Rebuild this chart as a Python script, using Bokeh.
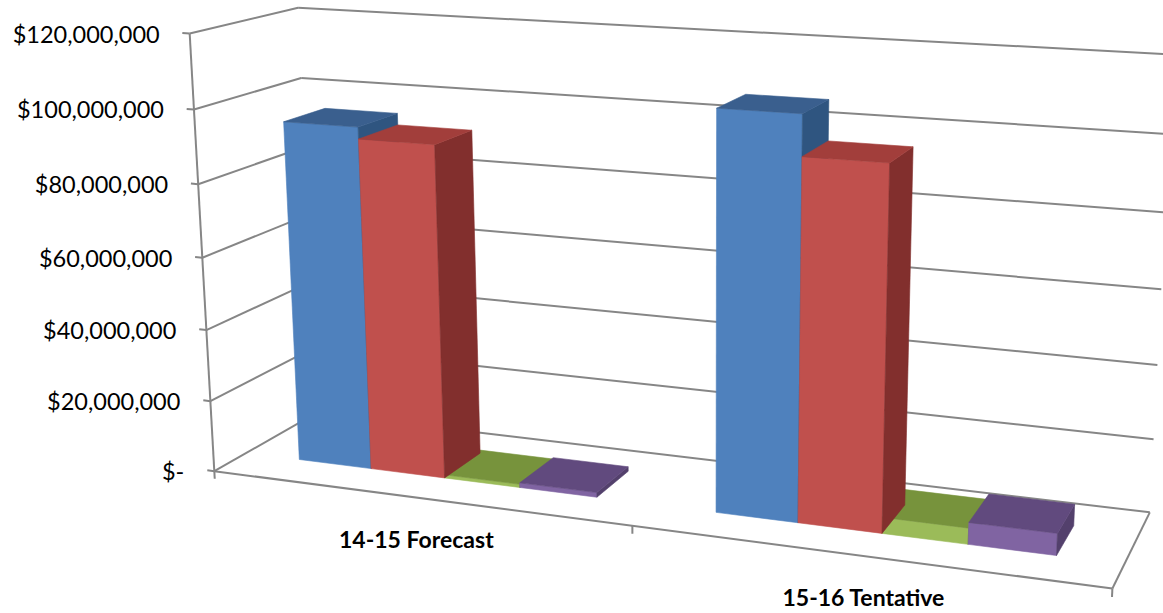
import numpy as np
from bokeh.plotting import figure
from bokeh.models import Range1d
from bokeh.embed import file_html
from bokeh.resources import INLINE
from bokeh.core.properties import value

# ---- data -------------------------------------------------------------
categories = ["14-15 Forecast", "15-16 Tentative"]
series_blue = [95.0e6, 106.3e6]
series_red = [91.8e6, 95.6e6]
series_green = [0.9e6, 4.3e6]
series_purple = [1.3e6, 5.8e6]
tick_values = [0, 20e6, 40e6, 60e6, 80e6, 100e6, 120e6]
tick_labels = ["$-", "$20,000,000", "$40,000,000", "$60,000,000",
               "$80,000,000", "$100,000,000", "$120,000,000"]

# ---- styling ----------------------------------------------------------
# (front, top, side) shades for each series
palette = [
    ("#4F81BD", "#3A5F8E", "#2F5580"),
    ("#C0504D", "#A23E3B", "#822F2D"),
    ("#9BBB59", "#77933C", "#63802F"),
    ("#8064A2", "#614A7E", "#53406C"),
]
GRID = "#868686"
W_PX, H_PX = 1163, 613
Y_MAX = tick_values[-1]
GAP_WIDTH = 1.5      # gap between clusters, in bar widths
DEPTH_FRONT, DEPTH_BACK = 0.3, 0.7   # bar depth inside the plot box

# ---- 3D view: plot-box corners (category, value fraction, depth) and
# where they sit on the page; a pinhole camera is fitted to them -------
frame_world = [
    (0, 0, 0), (0, 1, 0), (0, 1, 1), (0, 0, 1),
    (1, 0, 0), (2, 0, 0), (2, 0, 1), (2, 1, 1),
    (0, 1 / 6, 0), (0, 2 / 6, 0), (0, 3 / 6, 0), (0, 4 / 6, 0), (0, 5 / 6, 0),
    (0, 5 / 6, 1), (2, 1 / 6, 1), (2, 2 / 6, 1),
]
frame_page = [
    (213, 471), (190, 33), (297, 7), (317, 412),
    (632, 526), (1112, 587), (1149, 512), (1173, 53.5),
    (209.3, 401), (205.5, 329), (201.8, 257), (197.9, 183), (194.0, 110),
    (300, 78), (1153, 439), (1157, 365),
]


def fit_camera(world, page):
    Wp = np.asarray(world, float)
    Sp = np.asarray(page, float)
    mw = Wp.mean(0)
    sw = np.sqrt(3) / np.mean(np.linalg.norm(Wp - mw, axis=1))
    Tw = np.diag([sw, sw, sw, 1.0])
    Tw[:3, 3] = -sw * mw
    ms = Sp.mean(0)
    ss = np.sqrt(2) / np.mean(np.linalg.norm(Sp - ms, axis=1))
    Ts = np.diag([ss, ss, 1.0])
    Ts[:2, 2] = -ss * ms
    Wn = (Tw @ np.c_[Wp, np.ones(len(Wp))].T).T
    Sn = (Ts @ np.c_[Sp, np.ones(len(Sp))].T).T
    rows = []
    for (X, Y, Z, _), (u, v, _) in zip(Wn, Sn):
        rows.append([X, Y, Z, 1, 0, 0, 0, 0, -u * X, -u * Y, -u * Z, -u])
        rows.append([0, 0, 0, 0, X, Y, Z, 1, -v * X, -v * Y, -v * Z, -v])
    _, _, vt = np.linalg.svd(np.array(rows))
    Pn = vt[-1].reshape(3, 4)
    return np.linalg.inv(Ts) @ Pn @ Tw


P = fit_camera(frame_world, frame_page)
_, _, vtc = np.linalg.svd(P)
CAM = vtc[-1][:3] / vtc[-1][3]


def proj(pts):
    a = np.asarray(pts, float).reshape(-1, 3)
    h = (P @ np.c_[a, np.ones(len(a))].T)
    return list(h[0] / h[2]), list(h[1] / h[2])


def seg(p0, p1):
    xs, ys = proj([p0, p1])
    return xs, ys


p = figure(width=W_PX, height=H_PX, output_backend="svg", toolbar_location=None,
           x_range=Range1d(0, W_PX), y_range=Range1d(H_PX, 0),
           min_border=0, outline_line_color=None)
p.axis.visible = False
p.grid.visible = False
p.background_fill_color = "white"

n_cat = len(categories)

# ---- walls and floor --------------------------------------------------
lx, ly = [], []
for v in tick_values:
    f = v / Y_MAX
    a, b = seg((0, f, 0), (0, f, 1))          # side wall
    lx.append(a); ly.append(b)
    a, b = seg((0, f, 1), (n_cat, f, 1))      # back wall
    lx.append(a); ly.append(b)
a, b = seg((0, 0, 0), (n_cat, 0, 0)); lx.append(a); ly.append(b)      # floor front
a, b = seg((n_cat, 0, 0), (n_cat, 0, 1)); lx.append(a); ly.append(b)  # floor right
a, b = seg((0, 0, 0), (0, 1, 0)); lx.append(a); ly.append(b)          # value axis
for v in tick_values:
    a, b = seg((0, v / Y_MAX, 0), (-0.018, v / Y_MAX, 0))
    lx.append(a); ly.append(b)
for k in range(n_cat + 1):
    a, b = seg((k, 0, 0), (k, -0.018, 0))
    lx.append(a); ly.append(b)
p.multi_line(lx, ly, line_color=GRID, line_width=2)

# ---- bars -------------------------------------------------------------
series = [series_blue, series_red, series_green, series_purple]
n_ser = len(series)
bw = 1.0 / (n_ser + GAP_WIDTH)
boxes = []
for k in range(n_cat):
    for i, vals in enumerate(series):
        x0 = k + GAP_WIDTH / 2 * bw + i * bw
        x1 = x0 + bw
        h = vals[k] / Y_MAX
        boxes.append((x0, x1, h, i))


def box_faces(x0, x1, h, z0, z1):
    return [
        ((0, 0, -1), [(x0, 0, z0), (x1, 0, z0), (x1, h, z0), (x0, h, z0)], 0),
        ((0, 0, 1), [(x0, 0, z1), (x1, 0, z1), (x1, h, z1), (x0, h, z1)], 2),
        ((-1, 0, 0), [(x0, 0, z0), (x0, 0, z1), (x0, h, z1), (x0, h, z0)], 2),
        ((1, 0, 0), [(x1, 0, z0), (x1, 0, z1), (x1, h, z1), (x1, h, z0)], 2),
        ((0, 1, 0), [(x0, h, z0), (x1, h, z0), (x1, h, z1), (x0, h, z1)], 1),
    ]


def dist(b):
    c = np.array([(b[0] + b[1]) / 2, b[2] / 2, (DEPTH_FRONT + DEPTH_BACK) / 2])
    return np.linalg.norm(CAM - c)


fx, fy, fc = [], [], []
for x0, x1, h, i in sorted(boxes, key=dist, reverse=True):
    for n, quad, shade in box_faces(x0, x1, h, DEPTH_FRONT, DEPTH_BACK):
        ctr = np.mean(np.array(quad, float), axis=0)
        if np.dot(np.array(n, float), CAM - ctr) > 0:
            xs, ys = proj(quad)
            fx.append(xs); fy.append(ys); fc.append(palette[i][shade])
p.patches(fx, fy, fill_color=fc, line_color=fc, line_width=0.6)

# ---- labels -----------------------------------------------------------
tx, ty = [], []
for v in tick_values:
    xs, ys = proj([(0, v / Y_MAX, 0)])
    tx.append(xs[0] - 30); ty.append(ys[0])
p.text(tx, ty, text=tick_labels, text_font=value("Lato"), text_font_size="23.5px",
       text_color="#000000", text_align="right", text_baseline="middle")

cx, cy = [], []
for k in range(n_cat):
    xs, ys = proj([(k + 0.5, 0, 0)])
    cx.append(xs[0]); cy.append(ys[0] + 41)
p.text(cx, cy, text=categories, text_font=value("Lato"), text_font_size="23px",
       text_font_style="bold", text_color="#000000", text_align="center",
       text_baseline="middle")

open("out.html", "w").write(file_html(p, INLINE))
